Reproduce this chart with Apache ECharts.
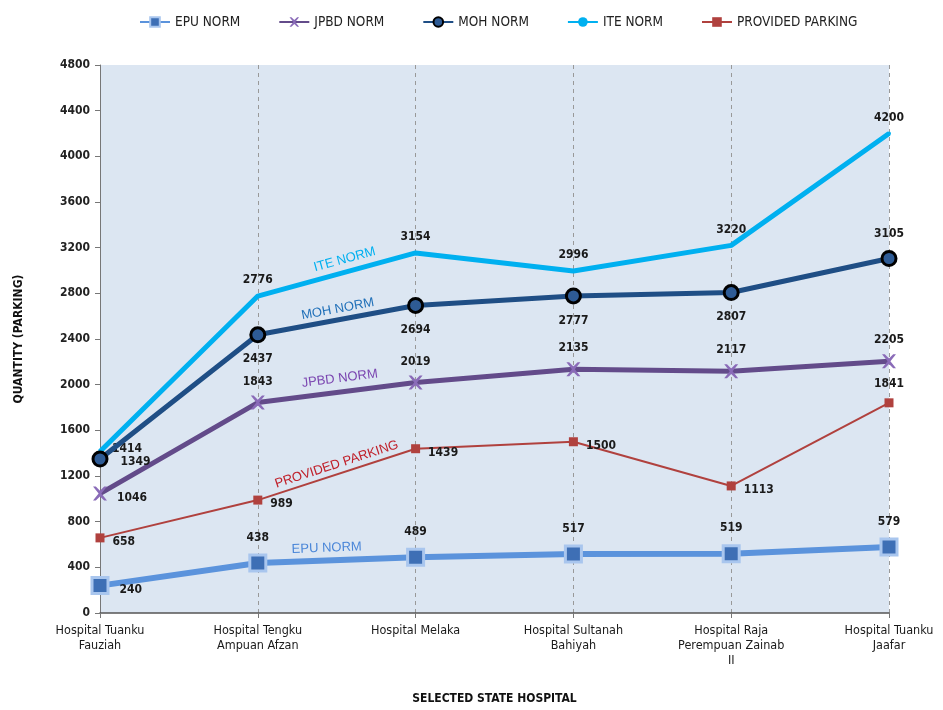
<!DOCTYPE html>
<html><head><meta charset="utf-8">
<script src="https://cdn.jsdelivr.net/npm/echarts@6/dist/echarts.min.js"></script>
<style>html,body{margin:0;padding:0;background:#fff}#c{width:943px;height:710px}</style>
</head><body><div id="c"></div>
<script>
const categories = ["Hospital Tuanku\nFauziah","Hospital Tengku\nAmpuan Afzan","Hospital Melaka","Hospital Sultanah\nBahiyah","Hospital Raja\nPerempuan Zainab\nII","Hospital Tuanku\nJaafar"];
const epu = [240,438,489,517,519,579];
const jpbd = [1046,1843,2019,2135,2117,2205];
const moh = [1349,2437,2694,2777,2807,3105];
const ite = [1414,2776,3154,2996,3220,4200];
const provided = [658,989,1439,1500,1113,1841];
const yTicks = {min:0,max:4800,interval:400};

const F = 'DejaVu Sans Condensed';
const lab = {show:true,color:'#1a1a1a',fontFamily:F,fontSize:12,fontWeight:'bold'};
function withPos(arr, posFn){
  return arr.map((v,i)=>{const p=posFn(i);return {value:v,label:{position:p.pos,distance:p.d||6,offset:p.off||[0,0]}};});
}
const chart = echarts.init(document.getElementById('c'));
const option = {
  animation:false,
  backgroundColor:'#fff',
  legend:{top:10,left:134,itemGap:38,itemWidth:30,itemHeight:12,
    textStyle:{fontFamily:F,fontSize:13.5,color:'#222'},
    data:['EPU NORM','JPBD NORM','MOH NORM','ITE NORM','PROVIDED PARKING']},
  grid:{left:100,right:54,top:65,bottom:94,show:true,backgroundColor:'#dce6f2',borderWidth:0},
  xAxis:{type:'category',data:categories,boundaryGap:false,
    name:'SELECTED STATE HOSPITAL',nameLocation:'middle',nameGap:80,
    nameTextStyle:{fontFamily:F,fontSize:12,fontWeight:'bold',color:'#111'},
    axisLine:{lineStyle:{color:'#555',width:1.5}},
    axisTick:{show:true,alignWithLabel:true,length:5,lineStyle:{color:'#777'}},
    axisLabel:{fontFamily:F,fontSize:12.5,color:'#1a1a1a',lineHeight:15,interval:0,margin:10},
    splitLine:{show:true,lineStyle:{color:'#999',type:[4,4],width:1}}},
  yAxis:{type:'value',min:yTicks.min,max:yTicks.max,interval:yTicks.interval,
    name:'QUANTITY (PARKING)',nameLocation:'middle',nameGap:75,nameRotate:90,
    nameTextStyle:{fontFamily:F,fontSize:12,fontWeight:'bold',color:'#111'},
    axisLine:{show:true,lineStyle:{color:'#777'}},
    axisTick:{show:true,length:5,lineStyle:{color:'#777'}},
    axisLabel:{fontFamily:F,fontSize:12,fontWeight:'bold',color:'#222',margin:10,formatter:v=>String(v)},
    splitLine:{show:false}},
  series:[
    {name:'ITE NORM',type:'line',data:withPos(ite,i=>i===0?{pos:'right',d:10,off:[0,-3]}:{pos:'top',d:8}),
      lineStyle:{color:'#00b0f0',width:5},itemStyle:{color:'#00b0f0'},
      symbol:'circle',symbolSize:4,showSymbol:true,label:Object.assign({},lab),z:5},
    {name:'MOH NORM',type:'line',data:withPos(moh,i=>i===0?{pos:'right',d:12,off:[0,3]}:(i===5?{pos:'top',d:10}:{pos:'bottom',d:10})),
      lineStyle:{color:'#1f4e85',width:5},itemStyle:{color:'#2e5b95',borderColor:'#000',borderWidth:3},
      symbol:'circle',symbolSize:14,label:Object.assign({},lab),z:6},
    {name:'JPBD NORM',type:'line',data:withPos(jpbd,i=>i===0?{pos:'right',d:10,off:[0,4]}:{pos:'top',d:8}),
      lineStyle:{color:'#634b8a',width:5},itemStyle:{color:'#8a6bb8'},
      symbol:'path://M0,0L2,0L5,3L8,0L10,0L6,5L10,10L8,10L5,7L2,10L0,10L4,5Z',symbolSize:14,label:Object.assign({},lab),z:4},
    {name:'PROVIDED PARKING',type:'line',data:withPos(provided,i=>i===5?{pos:'top',d:8}:{pos:'right',d:8,off:[0,4]}),
      lineStyle:{color:'#b0413e',width:2},itemStyle:{color:'#b0413e'},
      symbol:'rect',symbolSize:9,label:Object.assign({},lab),z:3},
    {name:'EPU NORM',type:'line',data:withPos(epu,i=>i===0?{pos:'right',d:10,off:[0,4]}:{pos:'top',d:10}),
      lineStyle:{color:'#5b93dc',width:6},itemStyle:{color:'#3e6fb5',borderColor:'#a9c6ee',borderWidth:3},
      symbol:'rect',symbolSize:16,label:Object.assign({},lab),z:3}
  ]
};
chart.setOption(option);

// inline series name annotations placed between categories 1 and 2
const notes = [
  {text:'ITE NORM',color:'#00b0f0',arr:ite,dx:8,dy:-15},
  {text:'MOH NORM',color:'#1f6fb8',arr:moh,dx:1,dy:-11},
  {text:'JPBD NORM',color:'#7a45b0',arr:jpbd,dx:3,dy:-14},
  {text:'PROVIDED PARKING',color:'#c0202a',arr:provided,dx:0,dy:-10},
  {text:'EPU NORM',color:'#4a86d8',arr:epu,dx:-10,dy:-12}
];
const g = notes.map(n=>{
  const p1 = chart.convertToPixel({gridIndex:0},[1,n.arr[1]]);
  const p2 = chart.convertToPixel({gridIndex:0},[2,n.arr[2]]);
  const ang = Math.atan2(p2[1]-p1[1],p2[0]-p1[0]);
  return {type:'text',x:(p1[0]+p2[0])/2+n.dx,y:(p1[1]+p2[1])/2+n.dy,rotation:-ang,
    style:{text:n.text,fill:n.color,font:'13px "Liberation Sans"',textAlign:'center',textVerticalAlign:'middle'},z:10};
});
chart.setOption({graphic:g});
</script></body></html>
